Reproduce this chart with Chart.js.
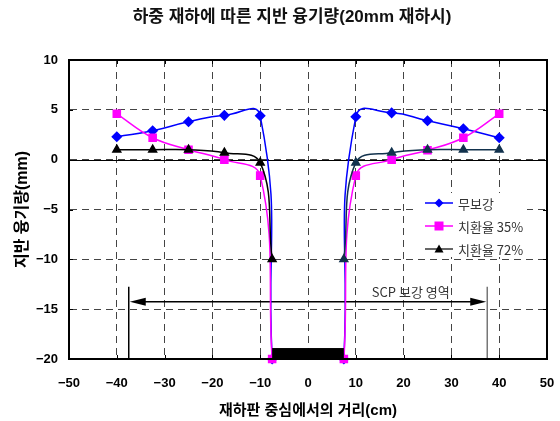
<!DOCTYPE html>
<html>
<head>
<meta charset="utf-8">
<script src="https://cdn.jsdelivr.net/npm/chart.js@4.4.1/dist/chart.umd.min.js"></script>
<style>
  body { margin: 0; background: #fff; }
</style>
</head>
<body>
<canvas id="heave_chart" width="560" height="421"></canvas>
<script>
// distance from plate centre (cm); null gap under the loading plate
const distances = [-40, -32.5, -25, -17.5, -10, -7.5, 0, 7.5, 10, 17.5, 25, 32.5, 40];
const noReinforce = [2.3, 2.9, 3.8, 4.45, 4.4, -20, null, -20, 4.3, 4.7, 3.9, 3.1, 2.2];
const replace35 = [4.6, 2.2, 1.0, 0.0, -1.6, -20, null, -20, -1.6, 0.0, 0.95, 2.2, 4.6];
const replace72 = [1.0, 1.0, 1.0, 0.7, -0.3, -10, null, -10, -0.3, 0.7, 1.0, 1.0, 1.0];
const seriesNames = ["무보강", "치환율 35%", "치환율 72%"];
const xTicks = [-50, -40, -30, -20, -10, 0, 10, 20, 30, 40, 50];
const yTicks = [-20, -15, -10, -5, 0, 5, 10];
const scpRange = [-37.5, 37.5];
const plateRange = [-7.5, 7.5];

const FONT = '"Liberation Sans", "Noto Sans CJK KR", sans-serif';
const KFONT = '"Noto Sans CJK KR", sans-serif';

function toPoints(values) {
  return distances.map((x, i) => ({ x: x, y: values[i] }));
}

function drawMarker(ctx, style, cx, cy, r, color) {
  ctx.fillStyle = color;
  ctx.beginPath();
  if (style === "diamond") {
    ctx.moveTo(cx, cy - r); ctx.lineTo(cx + r, cy); ctx.lineTo(cx, cy + r); ctx.lineTo(cx - r, cy);
  } else if (style === "square") {
    ctx.rect(cx - r, cy - r, 2 * r, 2 * r);
  } else {
    ctx.moveTo(cx, cy - r); ctx.lineTo(cx + r, cy + r * 0.8); ctx.lineTo(cx - r, cy + r * 0.8);
  }
  ctx.closePath();
  ctx.fill();
}

const overlay = {
  id: "overlay",
  beforeDatasetsDraw(chart) {
    const { ctx, chartArea: a, scales: { x, y } } = chart;
    ctx.save();
    // white legend backing over the grid
    ctx.fillStyle = "#fff";
    ctx.fillRect(413, 193, 114, 64);

    // solid zero line
    const y0 = Math.round(y.getPixelForValue(0)) + 0.5;
    ctx.strokeStyle = "#000";
    ctx.lineWidth = 1;
    ctx.beginPath(); ctx.moveTo(a.left, y0); ctx.lineTo(a.right, y0); ctx.stroke();

    // small inward tick marks on the frame
    ctx.strokeStyle = "#000";
    yTicks.forEach((v) => {
      const py = Math.round(y.getPixelForValue(v)) + 0.5;
      ctx.beginPath(); ctx.moveTo(a.left, py); ctx.lineTo(a.left + 4, py); ctx.stroke();
      ctx.beginPath(); ctx.moveTo(a.right - 4, py); ctx.lineTo(a.right, py); ctx.stroke();
    });
    xTicks.forEach((v) => {
      const px = Math.round(x.getPixelForValue(v)) + 0.5;
      ctx.beginPath(); ctx.moveTo(px, a.top); ctx.lineTo(px, a.top + 4); ctx.stroke();
      ctx.beginPath(); ctx.moveTo(px, a.bottom - 4); ctx.lineTo(px, a.bottom); ctx.stroke();
    });

    // SCP reinforcement zone
    const xl = x.getPixelForValue(scpRange[0]);
    const xr = x.getPixelForValue(scpRange[1]);
    const yTop = y.getPixelForValue(-12.75);
    const yArrow = y.getPixelForValue(-14.25);
    ctx.lineWidth = 1.5;
    ctx.strokeStyle = "#000";
    ctx.beginPath(); ctx.moveTo(xl, yTop); ctx.lineTo(xl, a.bottom); ctx.stroke();
    ctx.strokeStyle = "#777";
    ctx.beginPath(); ctx.moveTo(xr, yTop); ctx.lineTo(xr, a.bottom); ctx.stroke();
    ctx.strokeStyle = "#000";
    ctx.beginPath(); ctx.moveTo(xl + 8, yArrow); ctx.lineTo(xr - 8, yArrow); ctx.stroke();
    ctx.fillStyle = "#000";
    ctx.beginPath();
    ctx.moveTo(xl + 1, yArrow); ctx.lineTo(xl + 17, yArrow - 4); ctx.lineTo(xl + 17, yArrow + 4);
    ctx.closePath(); ctx.fill();
    ctx.beginPath();
    ctx.moveTo(xr - 1, yArrow); ctx.lineTo(xr - 17, yArrow - 4); ctx.lineTo(xr - 17, yArrow + 4);
    ctx.closePath(); ctx.fill();
    ctx.fillStyle = "#333";
    ctx.font = "13px " + KFONT;
    ctx.textAlign = "center";
    ctx.textBaseline = "bottom";
    ctx.fillText("SCP 보강 영역", x.getPixelForValue(21.5), yArrow - 3);
    ctx.restore();
  },
  afterDatasetsDraw(chart) {
    const { ctx, chartArea: a, scales: { x, y } } = chart;
    ctx.save();
    // loading plate
    const px1 = x.getPixelForValue(plateRange[0]);
    const px2 = x.getPixelForValue(plateRange[1]);
    const py = y.getPixelForValue(-18.9);
    ctx.fillStyle = "#000";
    ctx.fillRect(px1, py, px2 - px1, a.bottom - py);
    // frame
    ctx.strokeStyle = "#000";
    ctx.lineWidth = 2;
    ctx.strokeRect(a.left, a.top, a.right - a.left, a.bottom - a.top);
    ctx.restore();
  },
  afterDraw(chart) {
    const { ctx } = chart;
    ctx.save();
    ctx.fillStyle = "#111";
    ctx.font = "bold 17px " + FONT;
    ctx.textAlign = "center";
    ctx.textBaseline = "middle";
    ctx.fillText("하중 재하에 따른 지반 융기량(20mm 재하시)", 292, 17);

    // legend inside plot
    const colors = ["#0000ff", "#ff00ff", "#333"];
    const markerColors = ["#0000ff", "#ff00ff", "#000"];
    const styles = ["diamond", "square", "triangle"];
    ctx.font = "13px " + KFONT;
    ctx.textAlign = "left";
    for (let i = 0; i < seriesNames.length; i++) {
      const ly = 203 + i * 23;
      ctx.strokeStyle = colors[i];
      ctx.lineWidth = 1.5;
      ctx.beginPath(); ctx.moveTo(425, ly); ctx.lineTo(453, ly); ctx.stroke();
      drawMarker(ctx, styles[i], 439, ly, 4.5, markerColors[i]);
      ctx.fillStyle = "#333";
      ctx.fillText(seriesNames[i], 458, ly + 1);
    }
    ctx.restore();
  }
};

const navy = "#12324d";
const ctx = document.getElementById("heave_chart");
const heaveChart = new Chart(ctx, {
  type: "line",
  data: {
    datasets: [
      {
        label: seriesNames[0],
        data: toPoints(noReinforce),
        borderColor: "#0000ff",
        backgroundColor: "#0000ff",
        borderWidth: 1.5,
        pointStyle: "rectRot",
        pointRadius: 4.5,
        tension: 0.5,
        order: 3,
      },
      {
        label: seriesNames[1],
        data: toPoints(replace35),
        borderColor: "#ff00ff",
        backgroundColor: "#ff00ff",
        borderWidth: 1.5,
        pointStyle: "rect",
        pointRadius: 5,
        tension: 0.4,
        order: 2,
      },
      {
        label: seriesNames[2],
        data: toPoints(replace72),
        borderColor: "#000",
        backgroundColor: (c) => (c.raw && c.raw.x > 0 ? navy : "#000"),
        pointBorderColor: (c) => (c.raw && c.raw.x > 0 ? navy : "#000"),
        segment: {
          borderColor: (c) => (c.p0.parsed.x > 0 ? navy : "#000"),
        },
        borderWidth: 1.5,
        pointStyle: "triangle",
        pointRadius: 4.5,
        tension: 0.4,
        order: 1,
      },
    ],
  },
  options: {
    responsive: false,
    animation: false,
    spanGaps: false,
    clip: false,
    layout: { padding: { top: 60, right: 13, left: 0, bottom: 0 } },
    scales: {
      x: {
        type: "linear",
        min: -50,
        max: 50,
        afterFit: (s) => { s.height = 62; s.paddingLeft = 0; s.paddingRight = 0; },
        afterBuildTicks: (s) => { s.ticks = xTicks.map((v) => ({ value: v })); },
        ticks: {
          color: "#000",
          padding: 17,
          font: { family: FONT, size: 13, weight: "bold" },
          callback: (v) => String(v).replace("-", "\u2212"),
        },
        grid: { color: "#444", lineWidth: 1, drawTicks: false },
        border: { color: "#000", width: 2, dash: [7, 5] },
        title: {
          display: true,
          text: "재하판 중심에서의 거리(cm)",
          color: "#000",
          font: { family: FONT, size: 15, weight: "bold" },
          padding: { top: 0, bottom: 1 },
        },
      },
      y: {
        min: -20,
        max: 10,
        afterFit: (s) => { s.width = 69; s.paddingTop = 0; s.paddingBottom = 0; },
        afterBuildTicks: (s) => { s.ticks = yTicks.map((v) => ({ value: v })); },
        ticks: {
          color: "#000",
          padding: 11,
          font: { family: FONT, size: 13, weight: "bold" },
          callback: (v) => String(v).replace("-", "\u2212"),
        },
        grid: { color: "#444", lineWidth: 1, drawTicks: false },
        border: { color: "#000", width: 2, dash: [7, 5] },
        title: {
          display: true,
          text: "지반 융기량(mm)",
          color: "#000",
          font: { family: FONT, size: 16, weight: "bold" },
          padding: { top: 13, bottom: 0 },
        },
      },
    },
    plugins: {
      legend: { display: false },
      tooltip: { enabled: false },
    },
  },
  plugins: [overlay],
});
</script>
</body>
</html>
